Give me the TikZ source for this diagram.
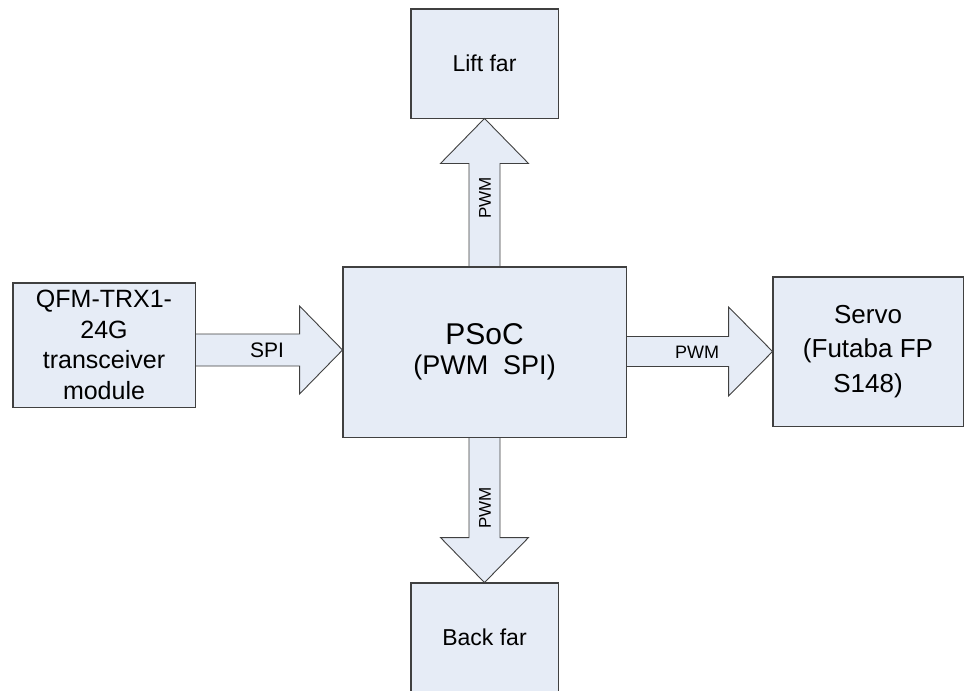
\documentclass[tikz,border=0pt]{standalone}
\usepackage{fontspec}
\setmainfont{Liberation Sans}
\usetikzlibrary{calc}
\definecolor{boxfill}{RGB}{230,236,246}
\definecolor{lineg}{RGB}{64,64,64}
\begin{document}
\begin{tikzpicture}[x=1pt,y=-1pt,
  blk/.style={draw=lineg,fill=boxfill,line width=0.9pt,inner sep=0pt,align=center},
  barrow/.style={draw=lineg,fill=boxfill,line width=0.9pt,line join=miter},
  lbl/.style={inner sep=0pt}]
\clip (0,0) rectangle (965,690);
\fill[white] (0,0) rectangle (965,690);
% boxes
\node[blk,minimum width=147pt,minimum height=109pt,font=\fontsize{23}{27}\selectfont] (lift) at (484.5,63.5) {Lift far};
\node[blk,minimum width=283pt,minimum height=170pt] (psoc) at (484.5,352) {};
\node[blk,minimum width=182pt,minimum height=124pt,font=\fontsize{25}{30.5}\selectfont] (qfm) at (104,345) {QFM-TRX1-\\24G\\transceiver\\module};
\node[blk,minimum width=190pt,minimum height=149pt,font=\fontsize{26}{34.5}\selectfont] (servo) at (868,351.5) {Servo\\(Futaba FP\\S148)};
\node[blk,minimum width=147pt,minimum height=109pt,font=\fontsize{23}{27}\selectfont] (back) at (484.5,637.5) {Back far};
% arrows
\draw[barrow] ($(psoc.north)+(-15.5,0)$) -- ($(lift.south)+(-15.5,45)$) -- ($(lift.south)+(-44,45)$) -- (lift.south) -- ($(lift.south)+(44,45)$) -- ($(lift.south)+(15.5,45)$) -- ($(psoc.north)+(15.5,0)$) -- cycle;
\draw[barrow] ($(psoc.south)+(-15.5,0)$) -- ($(back.north)+(-15.5,-45)$) -- ($(back.north)+(-44,-45)$) -- (back.north) -- ($(back.north)+(44,-45)$) -- ($(back.north)+(15.5,-45)$) -- ($(psoc.south)+(15.5,0)$) -- cycle;
\coordinate (spitip) at (psoc.west |- 0,350);
\draw[barrow] ($(qfm.east |- 0,350)+(0,-16)$) -- ($(spitip)+(-43,-16)$) -- ($(spitip)+(-43,-44)$) -- (spitip) -- ($(spitip)+(-43,44)$) -- ($(spitip)+(-43,16)$) -- ($(qfm.east |- 0,350)+(0,16)$) -- cycle;
\draw[barrow] ($(psoc.east |- servo.west)+(0,-15)$) -- ($(servo.west)+(-44,-15)$) -- ($(servo.west)+(-44,-44.5)$) -- (servo.west) -- ($(servo.west)+(-44,44.5)$) -- ($(servo.west)+(-44,15)$) -- ($(psoc.east |- servo.west)+(0,15)$) -- cycle;
% box outlines on top
\draw[draw=lineg,line width=0.9pt] (lift.south west) rectangle (lift.north east);
\draw[draw=lineg,line width=0.9pt] (psoc.south west) rectangle (psoc.north east);
\draw[draw=lineg,line width=0.9pt] (qfm.south west) rectangle (qfm.north east);
\draw[draw=lineg,line width=0.9pt] (servo.south west) rectangle (servo.north east);
\draw[draw=lineg,line width=0.9pt] (back.south west) rectangle (back.north east);
% texts
\node[font=\fontsize{30}{34}\selectfont,inner sep=0pt] (psoct) at (484.5,334) {PSoC};
\node[font=\fontsize{27}{31}\selectfont,inner sep=0pt] (psocs) at (484.5,368) {(PWM\ \ SPI)};
\node[lbl,font=\fontsize{17}{20}\selectfont,rotate=90] (l1) at (485,198) {PWM};
\node[lbl,font=\fontsize{17}{20}\selectfont,rotate=90] (l2) at (485,508) {PWM};
\node[lbl,font=\fontsize{21}{24}\selectfont] (l3) at (267,350) {SPI};
\node[lbl,font=\fontsize{18}{21}\selectfont] (l4) at (697,352) {PWM};
\end{tikzpicture}
\end{document}
